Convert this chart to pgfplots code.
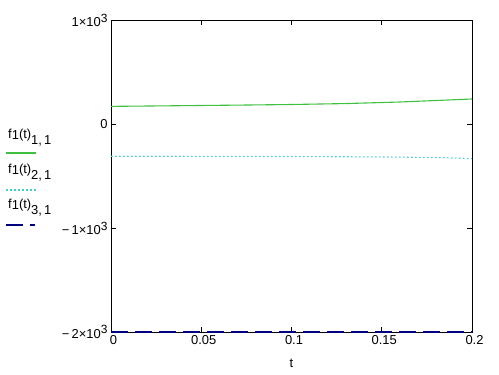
\documentclass[border=0pt]{standalone}
\usepackage{fontspec}
\setmainfont{Liberation Sans}
\usepackage{pgfplots}
\pgfplotsset{compat=1.18}
\definecolor{cgreen}{RGB}{64,192,64}
\definecolor{ccyan}{RGB}{64,208,208}
\definecolor{cnavy}{RGB}{0,0,128}
\newcommand{\supthree}[1]{\raisebox{0.35em}{\fontsize{12}{12}\selectfont #1}}
\begin{document}
\begin{tikzpicture}[x=1bp,y=1bp]
\useasboundingbox (0,0) rectangle (499,374);
\begin{axis}[
  at={(111bp,42bp)}, anchor=south west, scale only axis,
  width=361bp, height=311.5bp,
  xmin=0, xmax=0.2, ymin=-2000, ymax=1000,
  xtick={0,0.05,0.1,0.15,0.2},
  xticklabels={0,0.05,0.1,0.15,0.2},
  ytick={-2000,-1000,0,1000},
  yticklabels={{\char"2212\,2\texttimes10\supthree{3}},{\char"2212\,1\texttimes10\supthree{3}},0,{1\texttimes10\supthree{3}}},
  tick align=inside, major tick length=5bp,
  tick style={black, line width=0.8pt},
  axis line style={black, line width=1pt},
  ticklabel style={font=\fontsize{13}{15}\selectfont},
  xticklabel style={xshift=2.5bp},
  xlabel={t}, xlabel style={font=\fontsize{13}{15}\selectfont, yshift=-8bp},
  clip=false, scaled ticks=false,
]
\addplot[cgreen, line width=1.1pt] coordinates {(0,173) (0.03,178) (0.07,185) (0.1,191) (0.13,200) (0.16,215) (0.2,244)};
\addplot[ccyan, line width=1.1pt, dash pattern=on 1.5bp off 2.5bp] coordinates {(0,-307) (0.05,-308) (0.1,-310) (0.15,-314) (0.18,-320) (0.2,-330)};
\addplot[cnavy, line width=1.4pt, dash pattern=on 17bp off 7bp] coordinates {(0,-2000) (0.1,-2000) (0.2,-2000)};
\end{axis}
\begin{scope}[font=\fontsize{13}{15}\selectfont]
\node[anchor=base west, inner sep=0] at (8,374-138) {f\raisebox{-0.15em}{1}(t)\raisebox{-0.5em}{1,\,1}};
\draw[cgreen, line width=1.1pt] (6,374-153) -- (36,374-153);
\node[anchor=base west, inner sep=0] at (8,374-173) {f\raisebox{-0.15em}{1}(t)\raisebox{-0.5em}{2,\,1}};
\draw[ccyan, line width=1.1pt, dash pattern=on 1.5bp off 2.5bp] (6,374-190) -- (36,374-190);
\node[anchor=base west, inner sep=0] at (8,374-208) {f\raisebox{-0.15em}{1}(t)\raisebox{-0.5em}{3,\,1}};
\draw[cnavy, line width=1.1pt, dash pattern=on 17bp off 7bp] (6,374-225) -- (35,374-225);
\end{scope}
\end{tikzpicture}
\end{document}
